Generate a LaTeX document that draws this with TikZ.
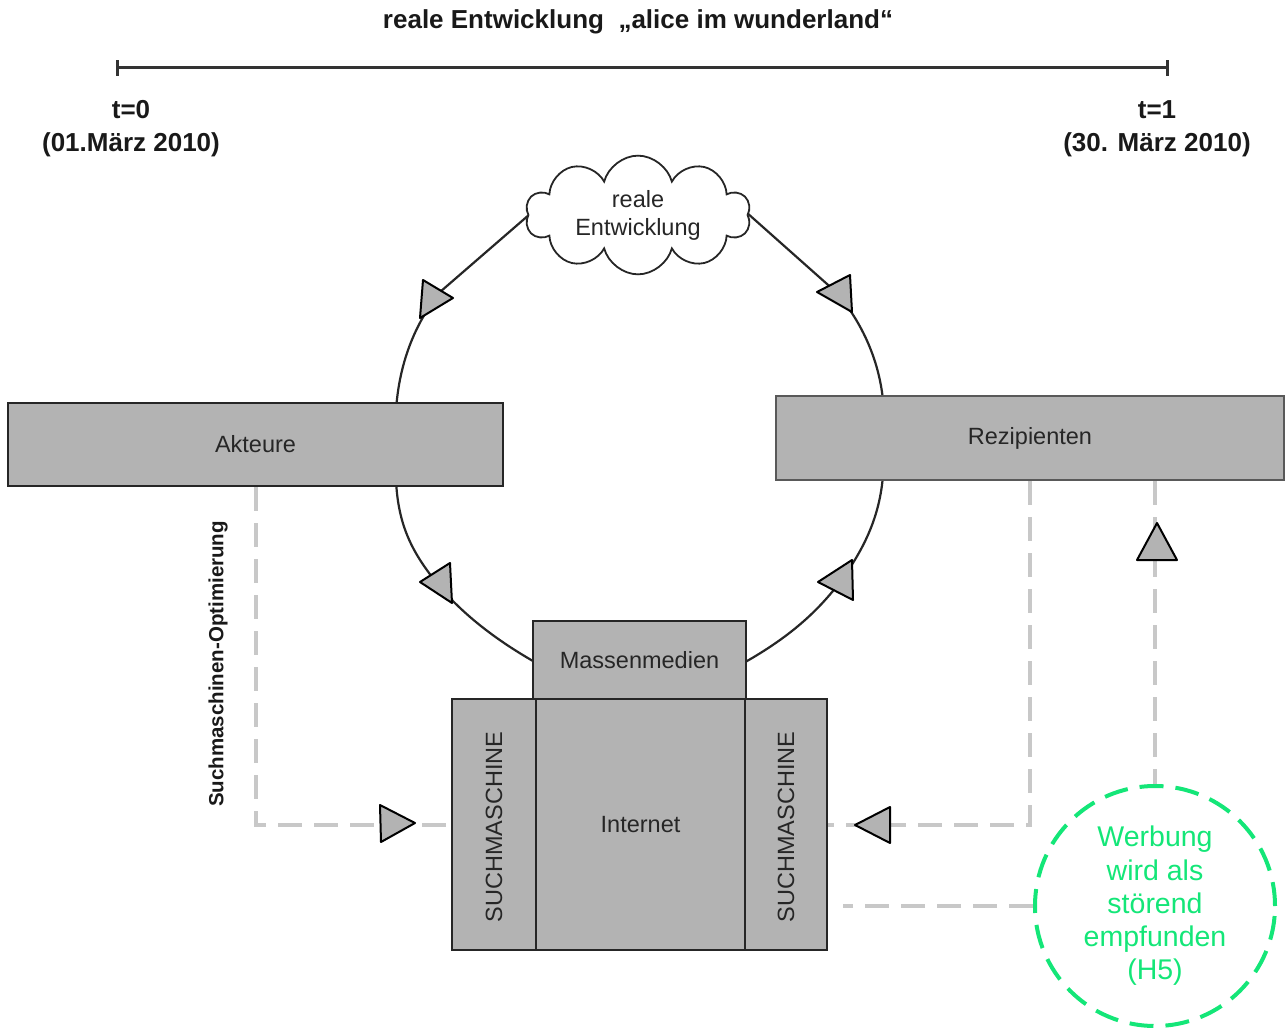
\documentclass[tikz,border=0pt]{standalone}
\usepackage{fontspec}
\setmainfont{Liberation Sans}
\usetikzlibrary{shapes.symbols,shapes.geometric}
\definecolor{boxgray}{RGB}{179,179,179}
\definecolor{dashgray}{RGB}{200,200,200}
\definecolor{hgreen}{RGB}{20,230,120}
\begin{document}
\begin{tikzpicture}[x=1pt,y=-1pt,
  box/.style={draw=black!85, line width=2pt, fill=boxgray, inner sep=0pt, text=black!85, font=\fontsize{23.5}{28}\selectfont},
  boxtext/.style={text=black!85, font=\fontsize{23.5}{28}\selectfont, inner sep=0pt},
  arcline/.style={draw=black!85, line width=2.2pt},
  tri/.style={draw=black, fill=boxgray, line width=2pt, line join=round},
  dline/.style={draw=dashgray, line width=4pt, dash pattern=on 24pt off 12pt},
  lbl/.style={font=\bfseries\fontsize{26}{33}\selectfont, align=center, text=black!90}]
\useasboundingbox (0,0) rectangle (1285,1032);

% title and timeline
\node[lbl] (title) at (638,22) {reale Entwicklung\ \ „alice im wunderland“};
\coordinate (t0) at (117,68);
\coordinate (t1) at (1167,68);
\draw[line width=3pt, black!80] (t0) -- (t1);
\draw[line width=3pt, black!80] ([yshift=-8pt]t0) -- ([yshift=8pt]t0);
\draw[line width=3pt, black!80] ([yshift=-8pt]t1) -- ([yshift=8pt]t1);
\node[lbl] (l0) at (131,129) {t=0\\(01.März 2010)};
\node[lbl] (l1) at (1157,129) {t=1\\(30. März 2010)};

% circular flow arcs
\draw[arcline] (530,214) -- (440,292) .. controls (422,315) and (400,352) .. (396,410);
\draw[arcline] (396,480) .. controls (398,525) and (412,552) .. (436,582) .. controls (460,612) and (495,640) .. (540,665);
\draw[arcline] (746,212) -- (836,292) .. controls (856,315) and (878,352) .. (883,400);
\draw[arcline] (883,475) .. controls (880,515) and (865,548) .. (840,582) .. controls (815,615) and (785,640) .. (740,665);

% cloud
\node[cloud, draw=black!85, line width=1.8pt, fill=white, cloud puffs=10, aspect=2.2,
      minimum width=225pt, minimum height=110pt, inner sep=0pt, align=center,
      text=black!85, font=\fontsize{23.5}{28}\selectfont] (cl) at (638,215) {reale\\Entwicklung};

% boxes
\node[box, minimum width=495pt, minimum height=83pt] (akt) at (255.5,444.5) {Akteure};
\node[box, draw=black!65, minimum width=508pt, minimum height=84pt] (rez) at (1030,438) {Rezipienten};
\node[box, minimum width=213pt, minimum height=78pt] (mm) at (639.5,660) {Massenmedien};
\node[box, minimum width=84pt, minimum height=251pt] (sl) at (494,824.5) {};
\node[box, minimum width=209pt, minimum height=251pt] (inet) at (640.5,824.5) {Internet};
\node[box, minimum width=82pt, minimum height=251pt] (sr) at (786,824.5) {};
\node[boxtext, rotate=90] (slt) at (494,827) {SUCHMASCHINE};
\node[boxtext, rotate=90] (srt) at (786,827) {SUCHMASCHINE};

% hypothesis circle
\node[circle, draw=hgreen, line width=4pt, dash pattern=on 24pt off 12pt, minimum size=240pt,
      align=center, text=hgreen, inner sep=0pt, font=\fontsize{28.5}{33.3}\selectfont] (hyp) at (1155,906)
      {Werbung\\wird als\\störend\\empfunden\\(H5)};

% dashed connectors
\draw[dline] (akt.south) |- (sl.west);
\draw[dline] (rez.south) |- (sr.east);
\draw[dline] (rez.south -| hyp.north) -- (hyp.north);
\coordinate (ie) at (843,906);
\draw[dline] (hyp.west) -- (ie);
\node[font=\bfseries\fontsize{20.5}{24}\selectfont, rotate=90, text=black!90] (opt) at (218,664) {Suchmaschinen-Optimierung};

% arrow triangles
\draw[tri] (380,805) -- (415,823) -- (381,842) -- cycle;
\draw[tri] (855,825) -- (890,807) -- (890,843) -- cycle;
\draw[tri] (1157,523) -- (1137,560) -- (1177,560) -- cycle;
\draw[tri] (423,280) -- (453,298) -- (420,318) -- cycle;
\draw[tri] (420,582) -- (450,563) -- (452,603) -- cycle;
\draw[tri] (817,292) -- (850,275) -- (852,312) -- cycle;
\draw[tri] (818,582) -- (852,560) -- (853,600) -- cycle;
\end{tikzpicture}
\end{document}
